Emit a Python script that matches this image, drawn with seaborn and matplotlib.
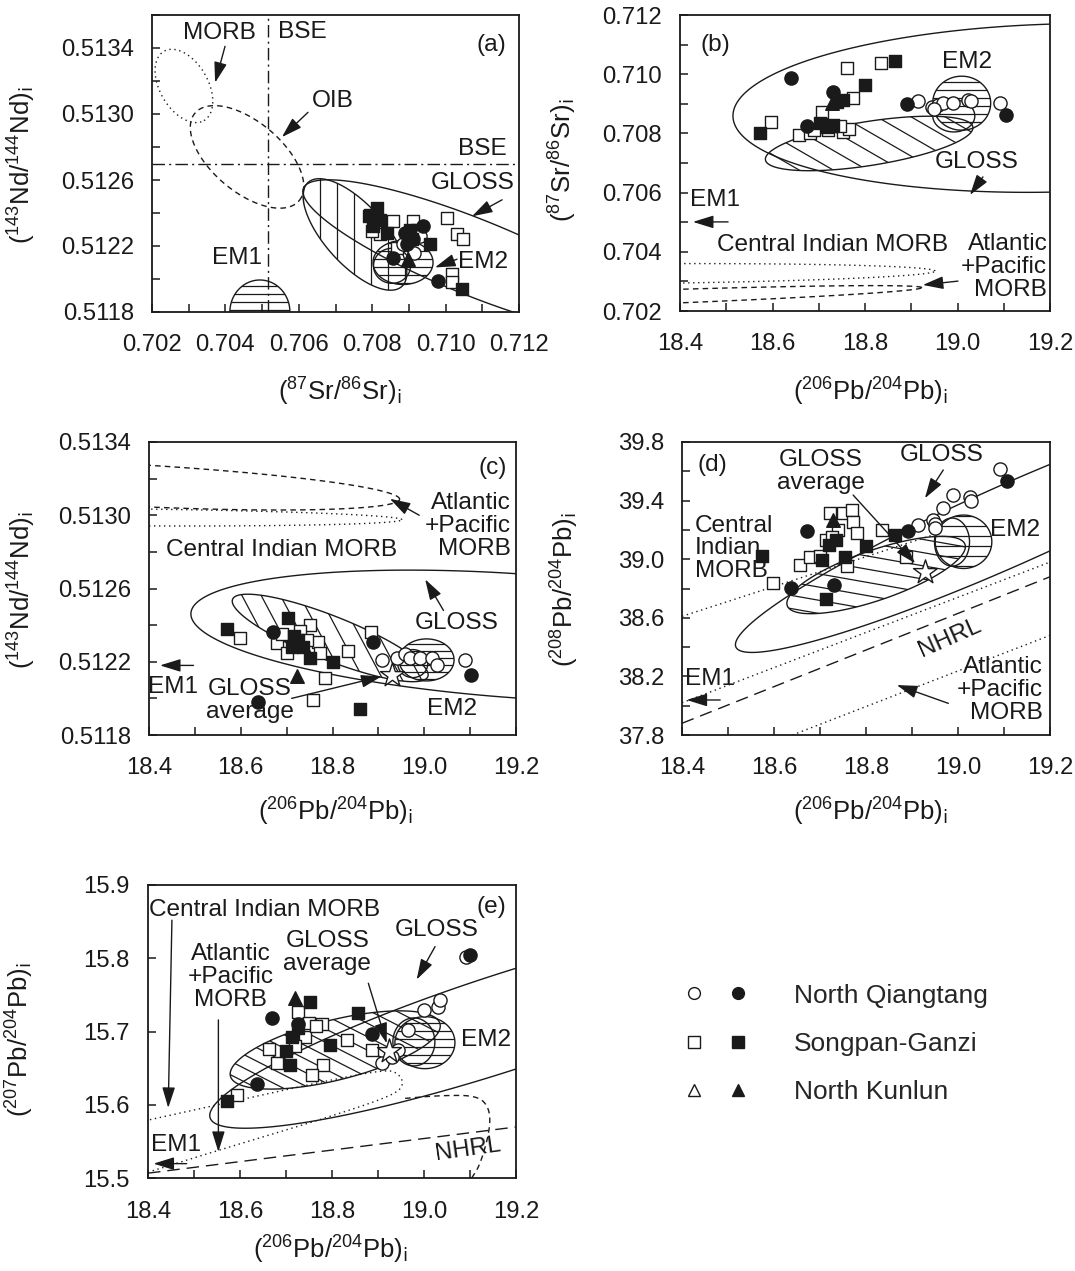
import numpy as np
import pandas as pd
import matplotlib
matplotlib.use("Agg")
import matplotlib.pyplot as plt
import seaborn as sns
from matplotlib.patches import Polygon
from matplotlib.ticker import FixedLocator, FormatStrFormatter
from matplotlib.lines import Line2D
from matplotlib.legend_handler import HandlerTuple

# ---------------- sample data (initial isotope ratios) ----------------
# (a) (87Sr/86Sr)i vs (143Nd/144Nd)i
a_nq_open = [(0.70903, 0.51224), (0.70884, 0.51221), (0.70930, 0.51226), (0.70915, 0.51216)]
a_nq_fill = [(0.70939, 0.51232), (0.70858, 0.51213), (0.70980, 0.51199), (0.70911, 0.51224),
             (0.70889, 0.51228), (0.70895, 0.51221)]
a_sg_open = [(0.71003, 0.51237), (0.71030, 0.51227), (0.71048, 0.51224), (0.71017, 0.51203),
             (0.71017, 0.51198), (0.70790, 0.51238), (0.70858, 0.51235), (0.70912, 0.51235),
             (0.70821, 0.51227), (0.70867, 0.51219), (0.70921, 0.51230), (0.70800, 0.51229)]
a_sg_fill = [(0.70812, 0.51243), (0.70794, 0.51239), (0.70821, 0.51236), (0.70840, 0.51228),
             (0.70903, 0.51230), (0.70908, 0.51224), (0.70957, 0.51221), (0.71044, 0.51194),
             (0.70803, 0.51232)]
a_nk_fill = [(0.70898, 0.51212)]

# (b) (206Pb/204Pb)i vs (87Sr/86Sr)i
b_nq_open = [(18.915, 0.70910), (18.944, 0.70890), (18.958, 0.70896), (18.969, 0.70902),
             (18.991, 0.70904), (19.023, 0.70913), (19.030, 0.70910), (19.092, 0.70904),
             (18.950, 0.70882)]
b_nq_fill = [(18.641, 0.70988), (18.730, 0.70941), (18.674, 0.70825), (18.890, 0.70898),
             (19.105, 0.70862)]
b_sg_open = [(18.760, 0.71020), (18.834, 0.71037), (18.596, 0.70837), (18.658, 0.70795),
             (18.706, 0.70873), (18.775, 0.70919), (18.752, 0.70806), (18.765, 0.70815),
             (18.681, 0.70800), (18.690, 0.70810), (18.745, 0.70825), (18.720, 0.70812)]
b_sg_fill = [(18.574, 0.70800), (18.865, 0.71045), (18.800, 0.70964), (18.753, 0.70913),
             (18.717, 0.70823), (18.703, 0.70834), (18.730, 0.70830), (18.740, 0.70905)]
b_nk_fill = [(18.728, 0.70902)]

# (c) (206Pb/204Pb)i vs (143Nd/144Nd)i
c_nq_open = [(18.907, 0.51221), (18.940, 0.51222), (18.958, 0.51224), (18.969, 0.51222),
             (18.991, 0.51222), (19.016, 0.51222), (19.028, 0.51218), (19.089, 0.51221)]
c_nq_fill = [(18.671, 0.51236), (18.888, 0.51231), (19.101, 0.51213), (18.638, 0.51198)]
c_sg_open = [(18.598, 0.51233), (18.678, 0.51230), (18.751, 0.51240), (18.833, 0.51226),
             (18.885, 0.51236), (18.784, 0.51211), (18.758, 0.51199), (18.769, 0.51231),
             (18.729, 0.51237), (18.773, 0.51225), (18.690, 0.51235), (18.745, 0.51232),
             (18.700, 0.51225)]
c_sg_fill = [(18.571, 0.51238), (18.704, 0.51244), (18.711, 0.51228), (18.715, 0.51234),
             (18.751, 0.51222), (18.800, 0.51220), (18.860, 0.51194), (18.725, 0.51232),
             (18.735, 0.51228)]
c_nk_fill = [(18.722, 0.51212)]
c_gloss_avg = [(18.929, 0.51213)]

# (d) (206Pb/204Pb)i vs (208Pb/204Pb)i
d_nq_open = [(18.914, 39.233), (18.946, 39.268), (18.950, 39.240), (18.968, 39.347),
             (18.990, 39.438), (19.026, 39.427), (19.028, 39.400), (19.091, 39.614),
             (18.950, 39.210)]
d_nq_fill = [(18.672, 39.195), (18.638, 38.801), (18.730, 38.824), (18.892, 39.195),
             (19.106, 39.536)]
d_sg_open = [(18.598, 38.835), (18.657, 38.960), (18.678, 39.017), (18.722, 39.313),
             (18.749, 39.313), (18.769, 39.335), (18.772, 39.256), (18.834, 39.199),
             (18.888, 39.017), (18.758, 38.954), (18.714, 39.131), (18.780, 39.176),
             (18.700, 39.020), (18.740, 39.200), (18.725, 39.150)]
d_sg_fill = [(18.573, 39.024), (18.714, 38.726), (18.800, 39.090), (18.863, 39.165),
             (18.704, 38.995), (18.755, 39.013), (18.720, 39.100), (18.735, 39.130)]
d_nk_fill = [(18.729, 39.270)]
d_gloss_avg = [(18.928, 38.915)]

# (e) (206Pb/204Pb)i vs (207Pb/204Pb)i
e_nq_open = [(19.000, 15.730), (19.031, 15.734), (19.034, 15.743), (18.966, 15.702),
             (18.944, 15.675), (18.908, 15.657), (19.091, 15.802), (18.930, 15.665)]
e_nq_fill = [(18.669, 15.718), (18.727, 15.711), (18.886, 15.697), (19.100, 15.805),
             (18.636, 15.629)]
e_sg_open = [(18.727, 15.727), (18.778, 15.711), (18.832, 15.689), (18.886, 15.675),
             (18.781, 15.655), (18.756, 15.641), (18.662, 15.677), (18.680, 15.657),
             (18.741, 15.693), (18.593, 15.614), (18.750, 15.712), (18.765, 15.708),
             (18.720, 15.680)]
e_sg_fill = [(18.752, 15.741), (18.857, 15.725), (18.796, 15.682), (18.712, 15.693),
             (18.701, 15.673), (18.709, 15.655), (18.571, 15.605), (18.725, 15.705)]
e_nk_fill = [(18.720, 15.746)]
e_gloss_avg = [(18.923, 15.673)]

# reference lines
d_indian_line = [(18.40, 38.61), (18.95, 39.17)]
d_em1_line = [(18.40, 38.02), (19.20, 38.98)]
d_nhrl = [(18.40, 37.88), (19.20, 38.88)]
d_atlantic_line = [(18.64, 37.80), (19.20, 38.48)]
e_nhrl = [(18.40, 15.507), (19.20, 15.570)]
e_indian_loop = [(18.383, 15.577), (18.622, 15.610), (18.796, 15.634), (18.915, 15.648),
                 (18.943, 15.644), (18.957, 15.629), (18.937, 15.614), (18.796, 15.584),
                 (18.557, 15.539), (18.383, 15.505)]
e_atlantic_loop = [(18.959, 15.609), (19.035, 15.613), (19.117, 15.613), (19.143, 15.595),
                   (19.143, 15.565), (19.122, 15.518), (19.100, 15.497)]

# axis ticks
sr_ticks = [0.702, 0.704, 0.706, 0.708, 0.710, 0.712]
sr_minor = [0.703, 0.705, 0.707, 0.709, 0.711]
nd_ticks_a = [0.5118, 0.5122, 0.5126, 0.5130, 0.5134]
nd_minor_a = [0.5120, 0.5124, 0.5128, 0.5132, 0.5136]
pb6_ticks = [18.4, 18.6, 18.8, 19.0, 19.2]
pb6_minor = [18.5, 18.7, 18.9, 19.1]
sr_ticks_b = [0.702, 0.704, 0.706, 0.708, 0.710, 0.712]
sr_minor_b = [0.703, 0.705, 0.707, 0.709, 0.711]
nd_ticks_c = [0.5118, 0.5122, 0.5126, 0.5130, 0.5134]
nd_minor_c = [0.5120, 0.5124, 0.5128, 0.5132]
pb8_ticks = [37.8, 38.2, 38.6, 39.0, 39.4, 39.8]
pb8_minor = [38.0, 38.4, 38.8, 39.2, 39.6]
pb7_ticks = [15.5, 15.6, 15.7, 15.8, 15.9]

legend_labels = ["North Qiangtang", "Songpan-Ganzi", "North Kunlun"]

# ---------------- style ----------------
sns.set_style("ticks")
plt.rcParams["font.family"] = ["Liberation Sans", "DejaVu Sans"]
plt.rcParams["mathtext.default"] = "regular"
INK = "#1a1a1a"
DOT = (0, (1, 2.6))
DASH = (0, (4, 3))
LDASH = (0, (9, 5))
DASHDOT = (0, (9, 3, 1.5, 3))
FS = 17.6

W, H = 1075, 1271
fig = plt.figure(figsize=(W / 100, H / 100), dpi=100)


def add_axes(left, top, width, height):
    return fig.add_axes([left / W, 1 - (top + height) / H, width / W, height / H])


def setup(ax, xlim, ylim, xmaj, xmin, ymaj, ymin, xfmt, yfmt):
    ax.set_xlim(*xlim)
    ax.set_ylim(*ylim)
    ax.xaxis.set_major_locator(FixedLocator(xmaj))
    ax.yaxis.set_major_locator(FixedLocator(ymaj))
    ax.xaxis.set_minor_locator(FixedLocator(xmin or []))
    ax.yaxis.set_minor_locator(FixedLocator(ymin or []))
    ax.xaxis.set_major_formatter(FormatStrFormatter(xfmt))
    ax.yaxis.set_major_formatter(FormatStrFormatter(yfmt))
    ax.tick_params(which="both", direction="in", length=6, width=1.1, colors=INK,
                   top=False, right=False)
    ax.tick_params(axis="x", which="major", pad=16, labelsize=17.2)
    ax.tick_params(axis="y", which="major", pad=13, labelsize=17.2)
    for s in ax.spines.values():
        s.set_linewidth(1.3)
        s.set_color(INK)
        s.set_visible(True)
    ax.set_xlabel("")
    ax.set_ylabel("")


def field(ax, cx, cy, a, b, ang, ls="-", lw=1.0, hatch=None):
    """Ellipse with semi-axes a, b (pixels) rotated by ang degrees, optional line hatch."""
    c = ax.transData.transform((cx, cy))
    t = np.linspace(0, 2 * np.pi, 400)
    th = np.deg2rad(ang)
    ex, ey = a * np.cos(t), b * np.sin(t)
    px = c[0] + ex * np.cos(th) - ey * np.sin(th)
    py = c[1] + ex * np.sin(th) + ey * np.cos(th)
    pts = ax.transData.inverted().transform(np.column_stack([px, py]))
    poly = Polygon(pts, closed=True, fill=False, ec=INK, lw=lw, ls=ls, zorder=2)
    ax.add_patch(poly)
    if hatch is not None:
        hang, gap = hatch
        r = max(a, b) * 1.2
        hth = np.deg2rad(hang)
        d = np.array([np.cos(hth), np.sin(hth)])
        nrm = np.array([-d[1], d[0]])
        for k in np.arange(-r, r + gap, gap):
            seg = np.array([c + nrm * k - d * r, c + nrm * k + d * r])
            seg = ax.transData.inverted().transform(seg)
            ln, = ax.plot(seg[:, 0], seg[:, 1], color=INK, lw=0.9, zorder=2)
            ln.set_clip_path(poly)
    return poly


def chaikin(pts, n=3):
    p = np.asarray(pts, float)
    for _ in range(n):
        q = 0.75 * p[:-1] + 0.25 * p[1:]
        r = 0.25 * p[:-1] + 0.75 * p[1:]
        new = np.empty((2 * len(q), 2))
        new[0::2], new[1::2] = q, r
        p = np.vstack([p[:1], new, p[-1:]])
    return p


def curve(ax, pts, ls, lw=1.0, smooth=True):
    p = chaikin(pts) if smooth else np.asarray(pts, float)
    ax.plot(p[:, 0], p[:, 1], color=INK, ls=ls, lw=lw, zorder=2)


def arrow(ax, tail, head):
    ax.annotate("", xy=head, xytext=tail,
                arrowprops=dict(arrowstyle="-|>,head_length=0.9,head_width=0.28",
                                color=INK, lw=1.0, shrinkA=0, shrinkB=0,
                                mutation_scale=14), zorder=6)


def label(ax, x, y, s, **kw):
    kw.setdefault("ha", "center")
    kw.setdefault("va", "center")
    kw.setdefault("fontsize", FS)
    ax.text(x, y, s, color=INK, zorder=7, linespacing=1.05, **kw)


STY = {
    "sg_open": dict(marker="s", s=80, color="white"),
    "nq_open": dict(marker="o", s=90, color="white"),
    "sg_fill": dict(marker="s", s=80, color=INK),
    "nq_fill": dict(marker="o", s=90, color=INK),
    "nk_fill": dict(marker="^", s=95, color=INK),
    "avg": dict(marker="*", s=330, color="white"),
}


def samples(ax, groups):
    rows = []
    for key, pts in groups:
        for x, y in pts:
            rows.append((key, x, y))
    df = pd.DataFrame(rows, columns=["group", "x", "y"])
    for key in STY:
        sub = df[df["group"] == key]
        if len(sub):
            st = STY[key]
            sns.scatterplot(data=sub, x="x", y="y", ax=ax, marker=st["marker"], s=st["s"],
                            color=st["color"], edgecolor=INK, linewidth=1.0,
                            zorder=5, legend=False, clip_on=False)
    ax.set_xlabel("")
    ax.set_ylabel("")


def figtext(x, y, s, **kw):
    fig.text(x / W, 1 - y / H, s, ha="center", va="center", fontsize=18.5, color=INK, **kw)


# ---------------- (a) ----------------
ax = add_axes(152, 15, 367, 297)
setup(ax, (0.702, 0.712), (0.5118, 0.5136), sr_ticks, sr_minor, nd_ticks_a, nd_minor_a,
      "%.3f", "%.4f")
ax.axvline(0.70516, color=INK, lw=1.0, ls=DASHDOT, zorder=1)
ax.axhline(0.51270, color=INK, lw=1.0, ls=DASHDOT, zorder=1)
field(ax, 0.70287, 0.51317, 40, 24, -60, ls=DOT)
field(ax, 0.70459, 0.51274, 68, 35, -40, ls=DASH)
field(ax, 0.70494, 0.51180, 30, 32, 0, hatch=(0, 8))
field(ax, 0.71080, 0.51213, 185, 38, -22)
field(ax, 0.70753, 0.51227, 70, 30, -48, hatch=(90, 17))
field(ax, 0.70884, 0.51210, 30, 22, 0, hatch=(0, 8))
field(ax, 0.70854, 0.51208, 18.5, 17.5, 0)
samples(ax, [("sg_open", a_sg_open), ("nq_open", a_nq_open), ("sg_fill", a_sg_fill),
             ("nq_fill", a_nq_fill), ("nk_fill", a_nk_fill)])
label(ax, 0.70385, 0.51349, "MORB")
arrow(ax, (0.70399, 0.51341), (0.70372, 0.51319))
label(ax, 0.70693, 0.51308, "OIB")
arrow(ax, (0.70625, 0.51301), (0.70554, 0.51286))
label(ax, 0.70609, 0.51350, "BSE")
label(ax, 0.71099, 0.51279, "BSE")
label(ax, 0.71075, 0.51258, "GLOSS")
arrow(ax, (0.71154, 0.51248), (0.71072, 0.51238))
label(ax, 0.71102, 0.51210, "EM2")
arrow(ax, (0.71031, 0.51212), (0.70971, 0.51207))
label(ax, 0.70432, 0.51213, "EM1")
label(ax, 0.71126, 0.51342, "(a)")

# ---------------- (b) ----------------
ax = add_axes(680, 15, 370, 296)
setup(ax, (18.4, 19.2), (0.702, 0.712), pb6_ticks, pb6_minor, sr_ticks_b, sr_minor_b,
      "%.1f", "%.3f")
field(ax, 19.217, 0.70886, 325, 84, 1.5)
field(ax, 18.809, 0.70766, 105, 22, 9, hatch=(-30, 17))
field(ax, 19.009, 0.70902, 29, 27, 0, hatch=(0, 8))
field(ax, 18.992, 0.70859, 21, 16, 0)
field(ax, 18.227, 0.70325, 335, 10, 0.5, ls=DOT)
field(ax, 18.227, 0.70241, 322, 7, 2, ls=DASH)
samples(ax, [("sg_open", b_sg_open), ("nq_open", b_nq_open), ("sg_fill", b_sg_fill),
             ("nq_fill", b_nq_fill), ("nk_fill", b_nk_fill)])
label(ax, 18.476, 0.71099, "(b)")
label(ax, 19.021, 0.71041, "EM2")
label(ax, 19.042, 0.70703, "GLOSS")
arrow(ax, (19.055, 0.70653), (19.027, 0.70592))
label(ax, 18.476, 0.70575, "EM1")
arrow(ax, (18.504, 0.70501), (18.428, 0.70501))
label(ax, 18.729, 0.70423, "Central Indian MORB")
label(ax, 19.194, 0.70349, "Atlantic\n+Pacific\nMORB", ha="right", multialignment="right")
arrow(ax, (19.001, 0.70301), (18.925, 0.70288))

# ---------------- (c) ----------------
ax = add_axes(149, 442, 367, 293)
setup(ax, (18.4, 19.2), (0.5118, 0.5134), pb6_ticks, pb6_minor, nd_ticks_c, nd_minor_c,
      "%.1f", "%.4f")
field(ax, 19.209, 0.51234, 330, 62, -4)
field(ax, 18.795, 0.51233, 105, 22, -21.6, hatch=(-62, 17))
field(ax, 19.005, 0.51221, 27.5, 21, 0, hatch=(0, 7))
field(ax, 18.975, 0.51219, 15, 14, 0)
field(ax, 18.315, 0.51317, 290, 21, -3, ls=DASH)
field(ax, 18.293, 0.51299, 302, 8.5, -0.5, ls=DOT)
samples(ax, [("sg_open", c_sg_open), ("nq_open", c_nq_open), ("sg_fill", c_sg_fill),
             ("nq_fill", c_nq_fill), ("nk_fill", c_nk_fill), ("avg", c_gloss_avg)])
label(ax, 19.150, 0.51326, "(c)")
label(ax, 19.188, 0.51294, "Atlantic\n+Pacific\nMORB", ha="right", multialignment="right")
label(ax, 18.689, 0.51281, "Central Indian MORB")
arrow(ax, (18.989, 0.51300), (18.925, 0.51309))
label(ax, 19.071, 0.51241, "GLOSS")
arrow(ax, (19.042, 0.51248), (19.002, 0.51265))
label(ax, 19.060, 0.51194, "EM2")
label(ax, 18.452, 0.51206, "EM1")
arrow(ax, (18.497, 0.51218), (18.424, 0.51218))
label(ax, 18.620, 0.51199, "GLOSS\naverage")
arrow(ax, (18.711, 0.51200), (18.907, 0.51212))

# ---------------- (d) ----------------
ax = add_axes(682, 442, 368, 293)
setup(ax, (18.4, 19.2), (37.8, 39.8), pb6_ticks, pb6_minor, pb8_ticks, pb8_minor,
      "%.1f", "%.1f")
field(ax, 19.113, 39.233, 300, 40, 24)
field(ax, 18.822, 38.892, 94, 25, 19, hatch=(-10, 13))
field(ax, 19.012, 39.119, 28.3, 26.7, 0, hatch=(0, 10))
field(ax, 18.987, 39.117, 17.5, 24, 0)
curve(ax, d_indian_line, DOT, smooth=False)
curve(ax, d_em1_line, DOT, smooth=False)
curve(ax, d_nhrl, LDASH, smooth=False)
curve(ax, d_atlantic_line, DOT, smooth=False)
samples(ax, [("sg_open", d_sg_open), ("nq_open", d_nq_open), ("sg_fill", d_sg_fill),
             ("nq_fill", d_nq_fill), ("nk_fill", d_nk_fill), ("avg", d_gloss_avg)])
label(ax, 18.465, 39.643, "(d)")
label(ax, 18.702, 39.597, "GLOSS\naverage")
arrow(ax, (18.772, 39.438), (18.907, 38.972))
label(ax, 18.965, 39.711, "GLOSS")
arrow(ax, (18.968, 39.609), (18.928, 39.416))
label(ax, 19.124, 39.199, "EM2")
label(ax, 18.428, 39.074, "Central\nIndian\nMORB", ha="left", multialignment="left")
label(ax, 18.983, 38.460, "NHRL", rotation=24)
label(ax, 19.185, 38.107, "Atlantic\n+Pacific\nMORB", ha="right", multialignment="right")
arrow(ax, (18.979, 38.016), (18.867, 38.141))
label(ax, 18.461, 38.182, "EM1")
arrow(ax, (18.483, 38.039), (18.410, 38.039))

# ---------------- (e) ----------------
ax = add_axes(148, 885, 368, 293.3)
setup(ax, (18.4, 19.2), (15.5, 15.9), pb6_ticks, pb6_minor, pb7_ticks, None,
      "%.1f", "%.1f")
field(ax, 19.176, 15.713, 310, 48, 18)
field(ax, 18.807, 15.675, 108, 30, 14, hatch=(-27, 12))
field(ax, 19.002, 15.685, 30, 26, 0, hatch=(0, 8))
field(ax, 18.978, 15.686, 21, 24, 0)
curve(ax, e_indian_loop, DOT)
curve(ax, e_atlantic_loop, DASH)
curve(ax, e_nhrl, LDASH, smooth=False)
samples(ax, [("sg_open", e_sg_open), ("nq_open", e_nq_open), ("sg_fill", e_sg_fill),
             ("nq_fill", e_nq_fill), ("nk_fill", e_nk_fill), ("avg", e_gloss_avg)])
label(ax, 18.654, 15.866, "Central Indian MORB")
arrow(ax, (18.452, 15.852), (18.444, 15.596))
label(ax, 19.146, 15.870, "(e)")
label(ax, 18.579, 15.775, "Atlantic\n+Pacific\nMORB")
arrow(ax, (18.553, 15.716), (18.553, 15.536))
label(ax, 18.790, 15.808, "GLOSS\naverage")
arrow(ax, (18.879, 15.766), (18.919, 15.684))
label(ax, 19.028, 15.839, "GLOSS")
arrow(ax, (19.024, 15.816), (18.984, 15.771))
label(ax, 19.136, 15.689, "EM2")
label(ax, 18.462, 15.545, "EM1")
arrow(ax, (18.484, 15.520), (18.412, 15.520))
label(ax, 19.096, 15.539, "NHRL", rotation=8)

# ---------------- axis titles ----------------
SR = r"($^{87}$Sr/$^{86}$Sr)$_{\rm i}$"
ND = r"($^{143}$Nd/$^{144}$Nd)$_{\rm i}$"
PB6 = r"($^{206}$Pb/$^{204}$Pb)$_{\rm i}$"
PB8 = r"($^{208}$Pb/$^{204}$Pb)$_{\rm i}$"
PB7 = r"($^{207}$Pb/$^{204}$Pb)$_{\rm i}$"
figtext(340, 392, SR)
figtext(22, 165, ND, rotation=90)
figtext(870, 392, PB6)
figtext(563, 160, SR, rotation=90)
figtext(335, 812, PB6)
figtext(22, 590, ND, rotation=90)
figtext(870, 812, PB6)
figtext(565, 590, PB8, rotation=90)
figtext(330, 1250, PB6)
figtext(20, 1040, PB7, rotation=90)

# ---------------- legend ----------------
def mk(marker, face, size):
    return Line2D([], [], ls="none", marker=marker, markersize=size,
                  markerfacecolor=face, markeredgecolor=INK, markeredgewidth=1.0)

handles = [(mk("o", "white", 8.5), mk("o", INK, 8.5)),
           (mk("s", "white", 8), mk("s", INK, 8)),
           (mk("^", "white", 8.5), mk("^", INK, 8.5))]
fig.legend(handles, legend_labels, handler_map={tuple: HandlerTuple(ndivide=None, pad=1.0)},
           loc="center left", bbox_to_anchor=(685 / W, 1 - 1044 / H), frameon=False,
           fontsize=19, handlelength=2.33, handletextpad=1.8, labelspacing=0.92,
           numpoints=1, borderpad=0, borderaxespad=0)

fig.savefig("out.png", dpi=100)
